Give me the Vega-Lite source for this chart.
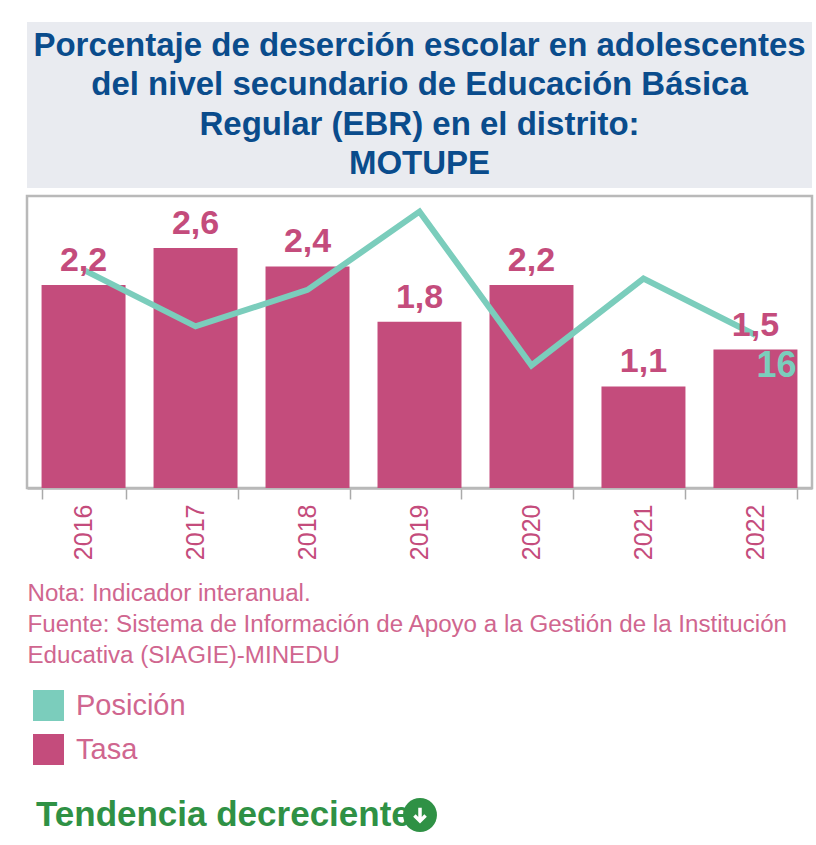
{
  "$schema": "https://vega.github.io/schema/vega-lite/v6.json",
  "background": "#ffffff",
  "padding": {"left": 13, "top": 22, "right": 2, "bottom": 0},
  "spacing": 6,
  "config": {
    "font": "Liberation Sans",
    "view": {"stroke": null}
  },
  "datasets": {
    "encabezado": [
      {"linea": 1, "texto": "Porcentaje de deserción escolar en adolescentes"},
      {"linea": 2, "texto": "del nivel secundario de Educación Básica"},
      {"linea": 3, "texto": "Regular (EBR) en el distrito:"},
      {"linea": 4, "texto": "MOTUPE"}
    ],
    "serie": [
      {"anio": "2016", "tasa": 2.2, "tasa_txt": "2,2", "posicion": 8.5},
      {"anio": "2017", "tasa": 2.6, "tasa_txt": "2,6", "posicion": 15},
      {"anio": "2018", "tasa": 2.4, "tasa_txt": "2,4", "posicion": 10.8},
      {"anio": "2019", "tasa": 1.8, "tasa_txt": "1,8", "posicion": 1.8},
      {"anio": "2020", "tasa": 2.2, "tasa_txt": "2,2", "posicion": 19.5},
      {"anio": "2021", "tasa": 1.1, "tasa_txt": "1,1", "posicion": 9.5},
      {"anio": "2022", "tasa": 1.5, "tasa_txt": "1,5", "posicion": 16}
    ],
    "tendencia": [
      {"elemento": "texto", "etiqueta": "Tendencia decreciente"},
      {"elemento": "icono", "etiqueta": ""}
    ]
  },
  "vconcat": [
    {
      "width": 785,
      "height": 166,
      "view": {"fill": "#e9ebf0", "stroke": null},
      "data": {"name": "encabezado"},
      "mark": {"type": "text", "fontSize": 33, "fontWeight": "bold", "color": "#0a4c8c", "align": "center", "baseline": "middle"},
      "encoding": {
        "y": {"field": "linea", "type": "ordinal", "axis": null, "scale": {"type": "point", "padding": 0.6}},
        "text": {"field": "texto", "type": "nominal"}
      }
    },
    {
      "width": 785,
      "height": 292,
      "view": {"stroke": "#b9b9b9", "strokeWidth": 2.5},
      "data": {"name": "serie"},
      "encoding": {
        "x": {
          "field": "anio",
          "type": "ordinal",
          "scale": {"paddingInner": 0.25, "paddingOuter": 0.13},
          "axis": {
            "orient": "bottom",
            "labelAngle": -90,
            "labelAlign": "right",
            "labelBaseline": "middle",
            "labelFontSize": 25,
            "labelColor": "#c44c7c",
            "labelPadding": 5,
            "tickBand": "extent",
            "tickSize": 11,
            "tickColor": "#aaaaaa",
            "tickWidth": 1.5,
            "domainColor": "#b9b9b9",
            "domainWidth": 2.5,
            "title": [
              "Nota: Indicador interanual.",
              "Fuente: Sistema de Información de Apoyo a la Gestión de la Institución",
              "Educativa (SIAGIE)-MINEDU"
            ],
            "titleFontSize": 24.15,
            "titleFontWeight": "normal",
            "titleColor": "#d0668f",
            "titleAnchor": "start",
            "titleAlign": "left",
            "titleBaseline": "top",
            "titleLineHeight": 31,
            "titleX": 0,
            "titleY": 93
          }
        }
      },
      "layer": [
        {
          "mark": {"type": "bar"},
          "encoding": {
            "y": {"field": "tasa", "type": "quantitative", "axis": null, "scale": {"domain": [0, 3.163]}},
            "fill": {
              "datum": "Tasa",
              "scale": {"domain": ["Posición", "Tasa"], "range": ["#7bcdbc", "#c44c7c"]},
              "legend": {
                "orient": "none",
                "legendX": 6,
                "legendY": 668,
                "title": null,
                "symbolType": "square",
                "symbolSize": 961,
                "symbolStrokeWidth": 0,
                "labelFontSize": 29,
                "labelColor": "#d0668f",
                "labelOffset": 12,
                "rowPadding": 13
              }
            }
          }
        },
        {
          "mark": {"type": "line", "strokeWidth": 6, "color": "#7bcdbc"},
          "encoding": {
            "y": {"field": "posicion", "type": "quantitative", "axis": null, "scale": {"domain": [0, 33.6], "reverse": true}}
          }
        },
        {
          "mark": {"type": "text", "fontSize": 34, "fontWeight": "bold", "color": "#c44c7c", "baseline": "alphabetic", "dy": -14},
          "encoding": {
            "y": {"field": "tasa", "type": "quantitative", "axis": null, "scale": {"domain": [0, 3.163]}},
            "text": {"field": "tasa_txt", "type": "nominal"}
          }
        },
        {
          "transform": [{"filter": "datum.anio === '2022'"}],
          "mark": {"type": "text", "fontSize": 36, "fontWeight": "bold", "color": "#7bcdbc", "align": "left", "baseline": "alphabetic", "dx": 1, "dy": 42},
          "encoding": {
            "y": {"field": "posicion", "type": "quantitative", "axis": null, "scale": {"domain": [0, 33.6], "reverse": true}},
            "text": {"field": "posicion", "type": "quantitative"}
          }
        }
      ],
      "resolve": {"scale": {"y": "independent"}}
    },
    {
      "width": 785,
      "height": 165,
      "data": {"name": "tendencia"},
      "encoding": {
        "x": {"field": "elemento", "type": "nominal", "axis": null, "scale": {"type": "point", "padding": 0, "domain": ["texto", "icono"], "range": [9, 393]}},
        "y": {"field": "elemento", "type": "nominal", "axis": null, "scale": {"type": "point", "padding": 0, "domain": ["texto", "icono"], "range": [140, 140]}}
      },
      "layer": [
        {
          "transform": [{"filter": "datum.elemento === 'texto'"}],
          "mark": {"type": "text", "fontSize": 35, "fontWeight": "bold", "color": "#2f9145", "align": "left", "baseline": "middle"},
          "encoding": {"text": {"field": "etiqueta", "type": "nominal"}}
        },
        {
          "transform": [{"filter": "datum.elemento === 'icono'"}],
          "mark": {"type": "point", "shape": "circle", "filled": true, "size": 1150, "color": "#2f9145", "opacity": 1}
        },
        {
          "transform": [{"filter": "datum.elemento === 'icono'"}],
          "mark": {"type": "point", "shape": "M0,-0.65V0.55M-0.5,0.05L0,0.55L0.5,0.05", "filled": false, "size": 500, "stroke": "#ffffff", "strokeWidth": 3.5, "opacity": 1}
        }
      ]
    }
  ]
}
